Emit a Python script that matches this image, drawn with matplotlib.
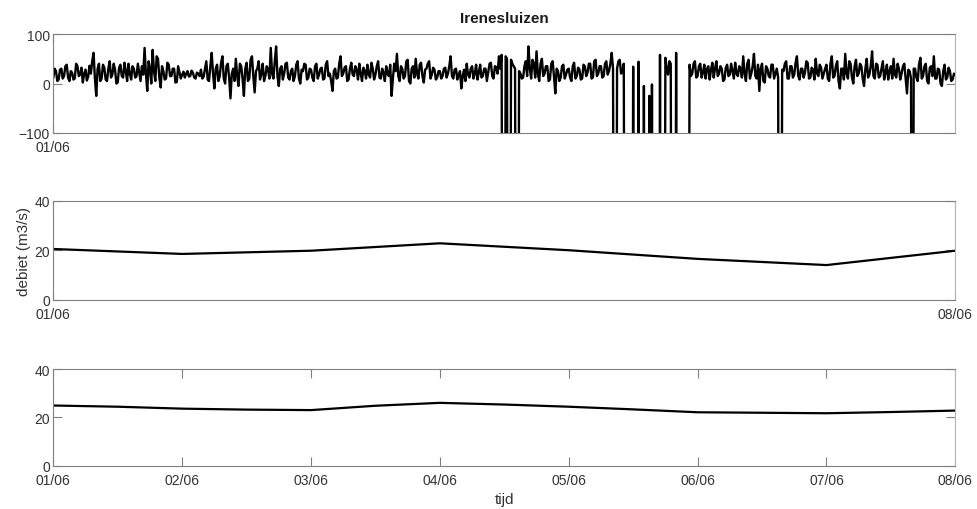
import numpy as np
import matplotlib.pyplot as plt
import matplotlib.dates as mdates

plt.rcParams['font.family'] = ['Liberation Sans', 'DejaVu Sans']

# measured signal at the Irenesluizen, every 15 minutes (-999 = missing)
signal = [
    # 01/06
    12, 30, 25, 5, 8, 28, 30, 10, 15, 35, 38, 12, 5, 25, 22, 8, 10, 40, 35, 15, 18, 32, 2, 20,
    28, 6, 14, 36, 20, 45, 62, 10, -25, 30, 40, 5, 10, 38, 32, 8, 5, 30, 45, 12, 18, 40, 28, 0,
    2, 32, 38, 15, 12, 42, 25, 5, 40, 20, 8, 35, 30, 12, 15, 40, 22, 5, 35, 18, 72, 20, -15, 45,
    30, 0, 68, 25, 5, 55, 50, 12, -8, 35, 25, 8, 10, 42, 38, 15, 15, 30, 30, 2, 3, 35, 22, 10,
    # 02/06
    18, 24, 12, 20, 25, 14, 15, 26, 22, 12, 10, 22, 20, 15, 28, 10, 14, 30, 45, 8, 5, 35, 62, 20,
    -10, 30, 38, 5, 15, 42, 55, 10, 0, 35, 40, 12, -30, 20, 30, 5, 50, 15, -5, 40, 35, 10, -25, 30,
    42, 5, 10, 48, 55, 15, -18, 25, 30, 45, 8, 20, 40, 5, 15, 35, 28, 10, 72, 20, 10, 45, 75, 15,
    -5, 30, 35, 8, 20, 40, 42, 12, 8, 25, 30, 5, 15, 38, 45, 10, 0, 28, 25, 40, 38, 8, 12, 30,
    # 03/06
    28, 12, 5, 35, 40, 10, 18, 30, 32, 8, 10, 38, 45, 15, 20, 5, -15, 25, 30, 10, 12, 40, 55, 15,
    20, 32, 35, 5, 8, 30, 42, 18, 15, 35, 28, 8, 40, 20, 5, 32, 25, 10, 38, 18, 12, 42, 30, 8,
    18, 35, 45, 12, 10, 30, 22, 5, 35, 20, 15, 38, -25, 10, 40, 25, 60, 15, 5, 35, 30, 10, 15, 45,
    48, 5, 0, 30, 35, 12, 50, 20, 10, 38, 42, 15, 2, 28, 30, 40, 45, 10, 18, 32, 28, 8, 12, 25,
    # 04/06
    25, 10, 15, 30, 32, 12, 20, 35, 55, 15, 10, 28, 30, 8, 18, 25, -10, 15, 28, 5, 40, 18, 12, 30,
    35, 10, 20, 38, 8, 22, 38, 12, 15, 30, 30, 5, 22, 40, 42, 15, 10, 35, 33, 20, 55, 30, 58, -999,
    -999, 55, 50, -999, -999, 48, 40, 35, 30, -999, -999, 25, 20, 10, 12, 35, 45, 15, 75, 30, 10, 48, 40, 12,
    65, 20, 5, 40, 50, 15, 20, 35, 35, 5, 8, 40, 45, 15, -20, 30, 25, 5, 12, 35, 38, 10, 18, 28,
    # 05/06
    30, 12, 5, 35, 42, 10, 15, 32, 28, 8, 10, 38, 35, 15, 22, 40, 40, 10, 12, 45, 48, 15, 20, 35,
    35, 12, 15, 40, 45, 18, 25, 40, 62, 30, -999, -999, 30, 45, 48, 20, 25, 40, -999, -999, -999, -999, -999, -999,
    34, -999, -999, -999, 44, -999, -999, -999, -5, -999, -999, -999, -25, -999, -2, -999, -999, -999, -999, -999, 58, -999, -999, -999,
    52, 30, 18, 45, 40, -999, -999, -999, 62, -999, -999, -999, -999, -999, -999, -999, -999, -999, 38, 15, 20, 40, 45, 12,
    # 06/06
    15, 35, 40, 12, 22, 38, 10, 30, 35, 8, 28, 42, 12, 30, 45, 15, 20, 35, 30, 5, 8, 32, 38, 15,
    18, 40, 25, 10, 42, 20, 15, 35, 30, 12, 55, 20, 5, 40, 48, 10, 20, 35, 60, 15, 10, 38, -15, 30,
    40, 5, 2, 35, 30, 15, 12, 38, 38, 10, 20, 30, 12, -999, -999, 28, 25, 40, 45, 10, 10, 35, 35, 12,
    18, 42, 55, 15, 8, 30, 30, 12, 22, 45, 42, 10, 12, 32, 28, 8, 50, 20, 15, 38, 32, 10, 20, 30,
    # 07/06
    38, 10, 5, 40, 55, 12, 15, 35, 45, 5, -10, 30, 30, 8, 60, 20, 10, 45, 40, 12, 0, 35, 48, 15,
    20, 40, 35, 10, -5, 30, 50, 12, 18, 35, 65, 15, 10, 40, 38, 12, 15, 30, 45, 8, 22, 38, 8, 25,
    35, 10, 50, 18, 12, 40, 30, 8, 20, 35, 40, 10, -20, 28, 25, 10, -999, 30, 30, 12, 5, 40, 52, 10,
    15, 35, 40, 5, 0, 32, 35, 15, 55, 10, 10, 30, 28, 0, -5, 25, 38, 8, 12, 32, 25, 5, 8, 20,
    18,
]

# daily discharge (m3/s)
debiet_dag = [20.5, 18.5, 19.8, 22.8, 20.0, 16.5, 14.0, 19.8]

# discharge every 12 hours (m3/s)
debiet_12u = [24.9, 24.4, 23.6, 23.2, 23.0, 24.8, 26.0, 25.3, 24.4, 23.3, 22.1, 21.9, 21.7, 22.2, 22.8]

start = np.datetime64('2016-06-01T00:00')
t_signal = start + np.arange(len(signal)) * np.timedelta64(15, 'm')
t_dag = start + np.arange(len(debiet_dag)) * np.timedelta64(1, 'D')
t_12u = start + np.arange(len(debiet_12u)) * np.timedelta64(12, 'h')
t_end = start + np.timedelta64(7, 'D')
days = start + np.arange(8) * np.timedelta64(1, 'D')

fig = plt.figure(figsize=(9.78, 5.10), dpi=100)
left, width = 0.0545, 0.9223
ax1 = fig.add_axes([left, 0.7373, width, 0.194])
ax2 = fig.add_axes([left, 0.4104, width, 0.194])
ax3 = fig.add_axes([left, 0.0849, width, 0.1896])

ax1.plot(t_signal, signal, color='black', lw=1.7)
ax2.plot(t_dag, debiet_dag, color='black', lw=1.6)
ax3.plot(t_12u, debiet_12u, color='black', lw=1.6)

ax1.set_ylim(-100, 100)
ax1.set_yticks([-100, 0, 100])
ax2.set_ylim(0, 40)
ax2.set_yticks([0, 20, 40])
ax3.set_ylim(0, 40)
ax3.set_yticks([0, 20, 40])

ax1.set_xticks([days[0]])
ax2.set_xticks([days[0], days[7]])
ax3.set_xticks(days)

for ax in (ax1, ax2, ax3):
    ax.set_xlim(start, t_end)
    ax.xaxis.set_major_formatter(mdates.DateFormatter('%d/%m'))
    ax.tick_params(direction='in', length=6.5, width=0.8, top=True, right=True,
                   colors='#808080', labelcolor='#333333', labelsize=10)
    ax.tick_params(axis='x', pad=5)
    ax.tick_params(axis='y', pad=2.5)
    for side in ('left', 'bottom', 'top'):
        ax.spines[side].set_color('#808080')
        ax.spines[side].set_linewidth(0.8)
    ax.spines['right'].set_color('#b5b5b5')
    ax.spines['right'].set_linewidth(0.8)

ax1.set_title('Irenesluizen', fontsize=11, fontweight='bold', color='#1a1a1a', pad=9)
ax2.set_ylabel('debiet (m3/s)', fontsize=11, color='#333333', labelpad=2)
ax3.set_xlabel('tijd', fontsize=11, color='#333333', labelpad=4)

fig.savefig('out.png', dpi=100)
